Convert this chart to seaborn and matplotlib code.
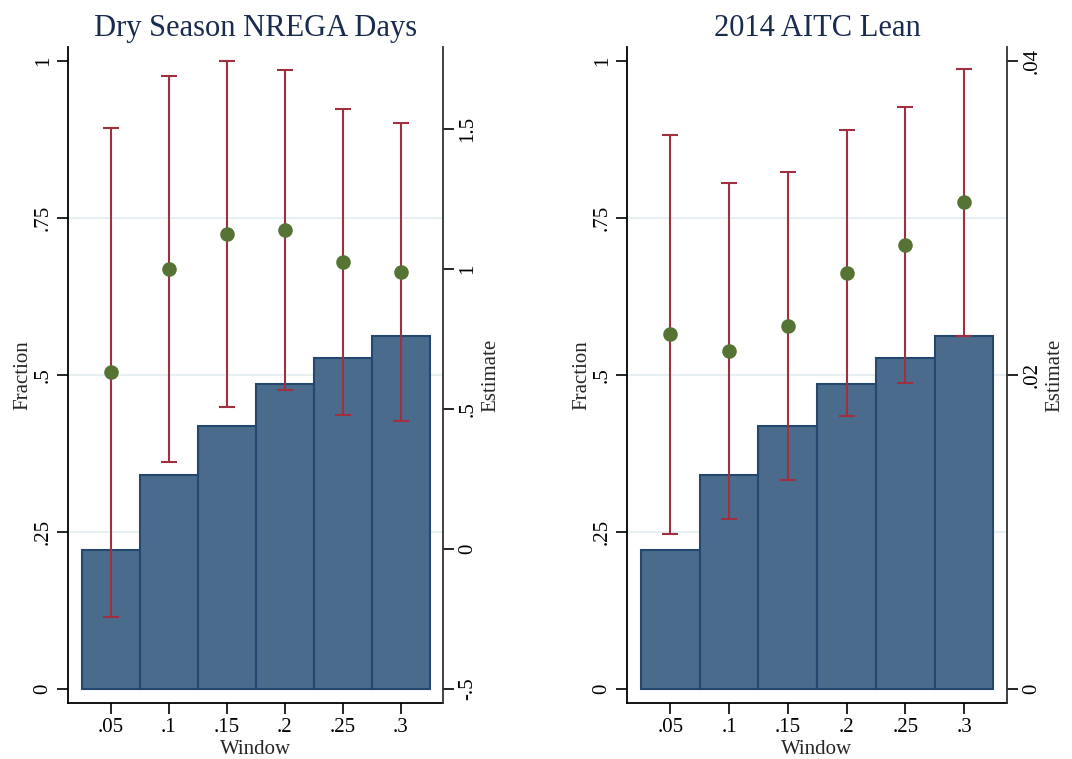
import numpy as np
import pandas as pd
import matplotlib
matplotlib.use('Agg')
import matplotlib.pyplot as plt
import seaborn as sns

## Datos
ventanas = [0.05, 0.10, 0.15, 0.20, 0.25, 0.30]
etiquetas_x = ['.05', '.1', '.15', '.2', '.25', '.3']
fraccion = [0.221, 0.341, 0.419, 0.485, 0.527, 0.562]

# Panel 1: Dry Season NREGA Days
est_nrega = [0.631, 1.000, 1.124, 1.140, 1.025, 0.989]
lo_nrega = [-0.243, 0.312, 0.507, 0.569, 0.479, 0.457]
hi_nrega = [1.505, 1.688, 1.743, 1.711, 1.573, 1.521]

# Panel 2: 2014 AITC Lean
est_aitc = [0.0226, 0.0215, 0.0231, 0.0265, 0.0283, 0.0310]
lo_aitc = [0.0099, 0.0108, 0.0133, 0.0174, 0.0195, 0.0225]
hi_aitc = [0.0353, 0.0322, 0.0329, 0.0356, 0.0371, 0.0395]

frac_ticks = [0, 0.25, 0.5, 0.75, 1]
frac_labels = ['0', '.25', '.5', '.75', '1']

paneles = [
    dict(titulo='Dry Season NREGA Days', est=est_nrega, lo=lo_nrega, hi=hi_nrega,
         ylim=(-0.55, 1.793), ticks=[-0.5, 0, 0.5, 1, 1.5],
         labels=['-.5', '0', '.5', '1', '1.5'],
         pos=[68 / 1072, 56 / 759, 375 / 1072, 656 / 759]),
    dict(titulo='2014 AITC Lean', est=est_aitc, lo=lo_aitc, hi=hi_aitc,
         ylim=(-0.00089, 0.04089), ticks=[0, 0.02, 0.04],
         labels=['0', '.02', '.04'],
         pos=[627 / 1072, 56 / 759, 380 / 1072, 656 / 759]),
]

## Estilo
sns.set_style('white')
plt.rcParams['font.family'] = ['Liberation Serif', 'DejaVu Serif']

color_barra = '#4a6b8c'
borde_barra = '#23476f'
color_punto = '#557332'
color_ic = '#a03040'
color_titulo = '#1a2b50'

fig = plt.figure(figsize=(10.72, 7.59), dpi=100)

df_barras = pd.DataFrame({'Window': ventanas, 'Fraction': fraccion})

for p in paneles:
    ax = fig.add_axes(p['pos'])
    sns.histplot(data=df_barras, x='Window', weights='Fraction',
                 binwidth=0.05, binrange=(0.025, 0.325),
                 stat='count', color=color_barra, edgecolor=borde_barra,
                 linewidth=1.5, alpha=1, ax=ax, zorder=2)
    ax.set_xlim(0.0132, 0.3365)
    ax.set_ylim(-0.0223, 1.0223)
    ax.set_yticks(frac_ticks)
    ax.set_yticklabels(frac_labels)
    ax.set_xticks(ventanas)
    ax.set_xticklabels(etiquetas_x)
    ax.set_xlabel('Window', fontsize=15, labelpad=2)
    ax.set_ylabel('Fraction', fontsize=15, labelpad=1)
    for yv in [0.25, 0.5, 0.75]:
        ax.axhline(yv, color='#e6f0f2', linewidth=1.5, zorder=0)

    ax2 = ax.twinx()
    ax2.errorbar(ventanas, p['est'],
                 yerr=[np.array(p['est']) - np.array(p['lo']),
                       np.array(p['hi']) - np.array(p['est'])],
                 fmt='none', ecolor=color_ic, elinewidth=1.5, capsize=6,
                 capthick=1.5, zorder=3)
    sns.scatterplot(x=ventanas, y=p['est'], color=color_punto, s=110,
                    edgecolor=color_punto, linewidth=0, ax=ax2, zorder=4)
    ax2.set_ylim(*p['ylim'])
    ax2.set_yticks(p['ticks'])
    ax2.set_yticklabels(p['labels'])
    ax2.set_ylabel('Estimate', fontsize=15, labelpad=3)

    ax.set_title(p['titulo'], fontsize=22, color=color_titulo, pad=8)

    for a in (ax, ax2):
        a.spines['top'].set_visible(False)
        a.tick_params(axis='both', which='major', direction='out', length=8,
                      width=1.2, labelsize=15, colors='black', pad=3)
        for s in a.spines.values():
            s.set_linewidth(1.3)
    ax.spines['left'].set_color('black')
    ax.spines['bottom'].set_color('black')
    ax2.spines['right'].set_color('#333333')
    ax2.spines['left'].set_visible(False)
    ax2.spines['bottom'].set_visible(False)
    ax.spines['right'].set_visible(False)
    ax.tick_params(axis='x', bottom=True)
    ax.tick_params(axis='y', left=True, labelrotation=90)
    ax2.tick_params(axis='y', right=True, labelrotation=90)
    for lab in ax.get_yticklabels() + ax2.get_yticklabels():
        lab.set_va('center')

fig.savefig('out.png', dpi=100)
